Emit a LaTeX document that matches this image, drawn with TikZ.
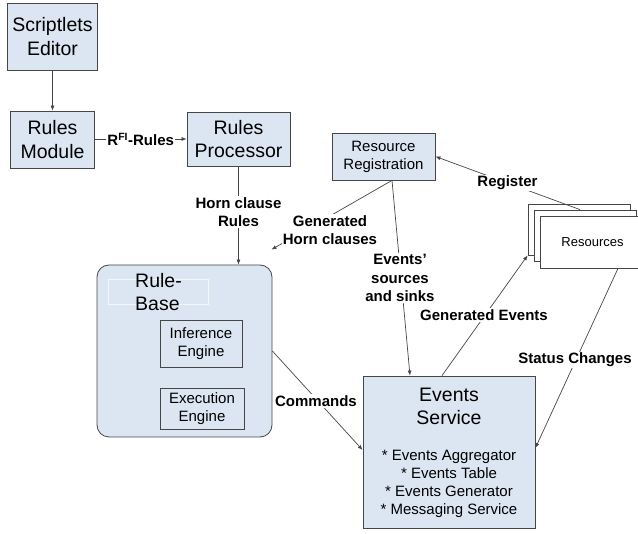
\documentclass[tikz,border=0pt]{standalone}
\usepackage{fontspec}
\setmainfont{Liberation Sans}
\usetikzlibrary{arrows.meta,calc}
\definecolor{boxblue}{RGB}{220,230,242}
\definecolor{edgec}{RGB}{70,70,70}
\begin{document}
\begin{tikzpicture}[x=1pt,y=-1pt,
  big/.style={font=\fontsize{19.5}{23.4}\selectfont},
  mid/.style={font=\fontsize{15}{18}\selectfont},
  lbl/.style={font=\bfseries\fontsize{15}{18.5}\selectfont, fill=white, inner sep=1pt, align=center},
  bluebox/.style={draw=edgec, fill=boxblue, line width=0.8pt, inner sep=0pt, align=center},
  whitebox/.style={draw=edgec, fill=white, line width=0.8pt, inner sep=0pt},
  arr/.style={draw=edgec, line width=0.7pt, -{Latex[length=5pt,width=4pt]}}]
\useasboundingbox (0,0) rectangle (638,534);
\fill[white] (0,0) rectangle (638,534);
% boxes
\node[bluebox,big,minimum width=90,minimum height=67] (se) at (52.5,36.5) {Scriptlets\\Editor};
\node[bluebox,big,minimum width=84,minimum height=57] (rm) at (52.5,139.5) {Rules\\Module};
\node[bluebox,big,minimum width=103,minimum height=54] (rp) at (238.5,139) {Rules\\Processor};
\node[bluebox,mid,minimum width=103,minimum height=47] (rr) at (383.5,156.5) {Resource\\Registration};
\node[draw=edgec, fill=boxblue, rounded corners=12pt, line width=0.8pt, minimum width=175, minimum height=172, inner sep=0pt] (rb) at (184.5,351) {};
\draw[boxblue!35!white, line width=0.5pt] (108,279) rectangle (208,304);
\node[big, anchor=west, align=left, inner sep=0pt] (rbt) at (135,292) {Rule-\\Base};
\node[bluebox,mid,minimum width=82,minimum height=47] (ie) at (201,343.5) {Inference\\Engine};
\node[bluebox,mid,minimum width=84,minimum height=41] (ee) at (202,408.5) {Execution\\Engine};
\node[bluebox, minimum width=172, minimum height=152] (es) at (449,452) {};
\node[big, align=center, inner sep=0pt] (est) at (449,406.5) {Events\\Service};
\node[align=center, inner sep=0pt, font=\fontsize{15}{17.8}\selectfont] (esl) at (449,484) {* Events Aggregator\\* Events Table\\* Events Generator\\* Messaging Service};
\node[whitebox, minimum width=102, minimum height=51] (r3) at (579,229.5) {};
\node[whitebox, minimum width=102, minimum height=51] (r2) at (585,235.5) {};
\node[whitebox, minimum width=105, minimum height=52, font=\fontsize{13}{15}\selectfont] (r1) at (592.5,242) {Resources};
% coordinates
\coordinate (rrs) at ($(rr.south)+(8.5,0)$);
\coordinate (rbne) at ($(rb.north east)+(-1,-15)$);
\coordinate (esa) at ($(es.north)+(-39,0)$);
\coordinate (esb) at ($(es.north)+(-7,0)$);
\coordinate (r2a) at ($(r2.north)+(-5,0)$);
\coordinate (r1a) at ($(r1.south)+(25.5,0)$);
\coordinate (esr) at ($(es.east)+(0,-4)$);
\coordinate (esl2) at ($(es.west)+(0,-2)$);
% connectors
\draw[arr] (se.south) -- (rm.north);
\draw[arr] (rm.east |- rp.west) -- (rp.west);
\node[lbl] (l1) at ($(rm.east)!0.5!(rp.west)$) {R\textsuperscript{FI}-Rules};
\draw[arr] (rp.south) -- (rp.south |- rb.north);
\node[lbl] (l2) at (238.5,212) {Horn clause\\Rules};
\draw[arr] (rrs) -- (rbne);
\node[lbl] (l3) at (330,230) {Generated\\Horn clauses};
\draw[arr] (rrs) -- (esa);
\node[lbl] (l4) at (400,278) {Events’\\sources\\and sinks};
\draw[arr] (r2a) -- (rr.east);
\node[lbl] (l5) at (507.5,183) {Register};
\draw[arr] (esb) -- (r3.south west);
\node[lbl] (l6) at (484,315) {Generated Events};
\draw[arr] (r1a) -- (esr);
\node[lbl] (l7) at (575,360) {Status Changes};
\draw[arr] (rb.east) -- (esl2);
\node[lbl] (l8) at (316,401) {Commands};
\end{tikzpicture}
\end{document}
